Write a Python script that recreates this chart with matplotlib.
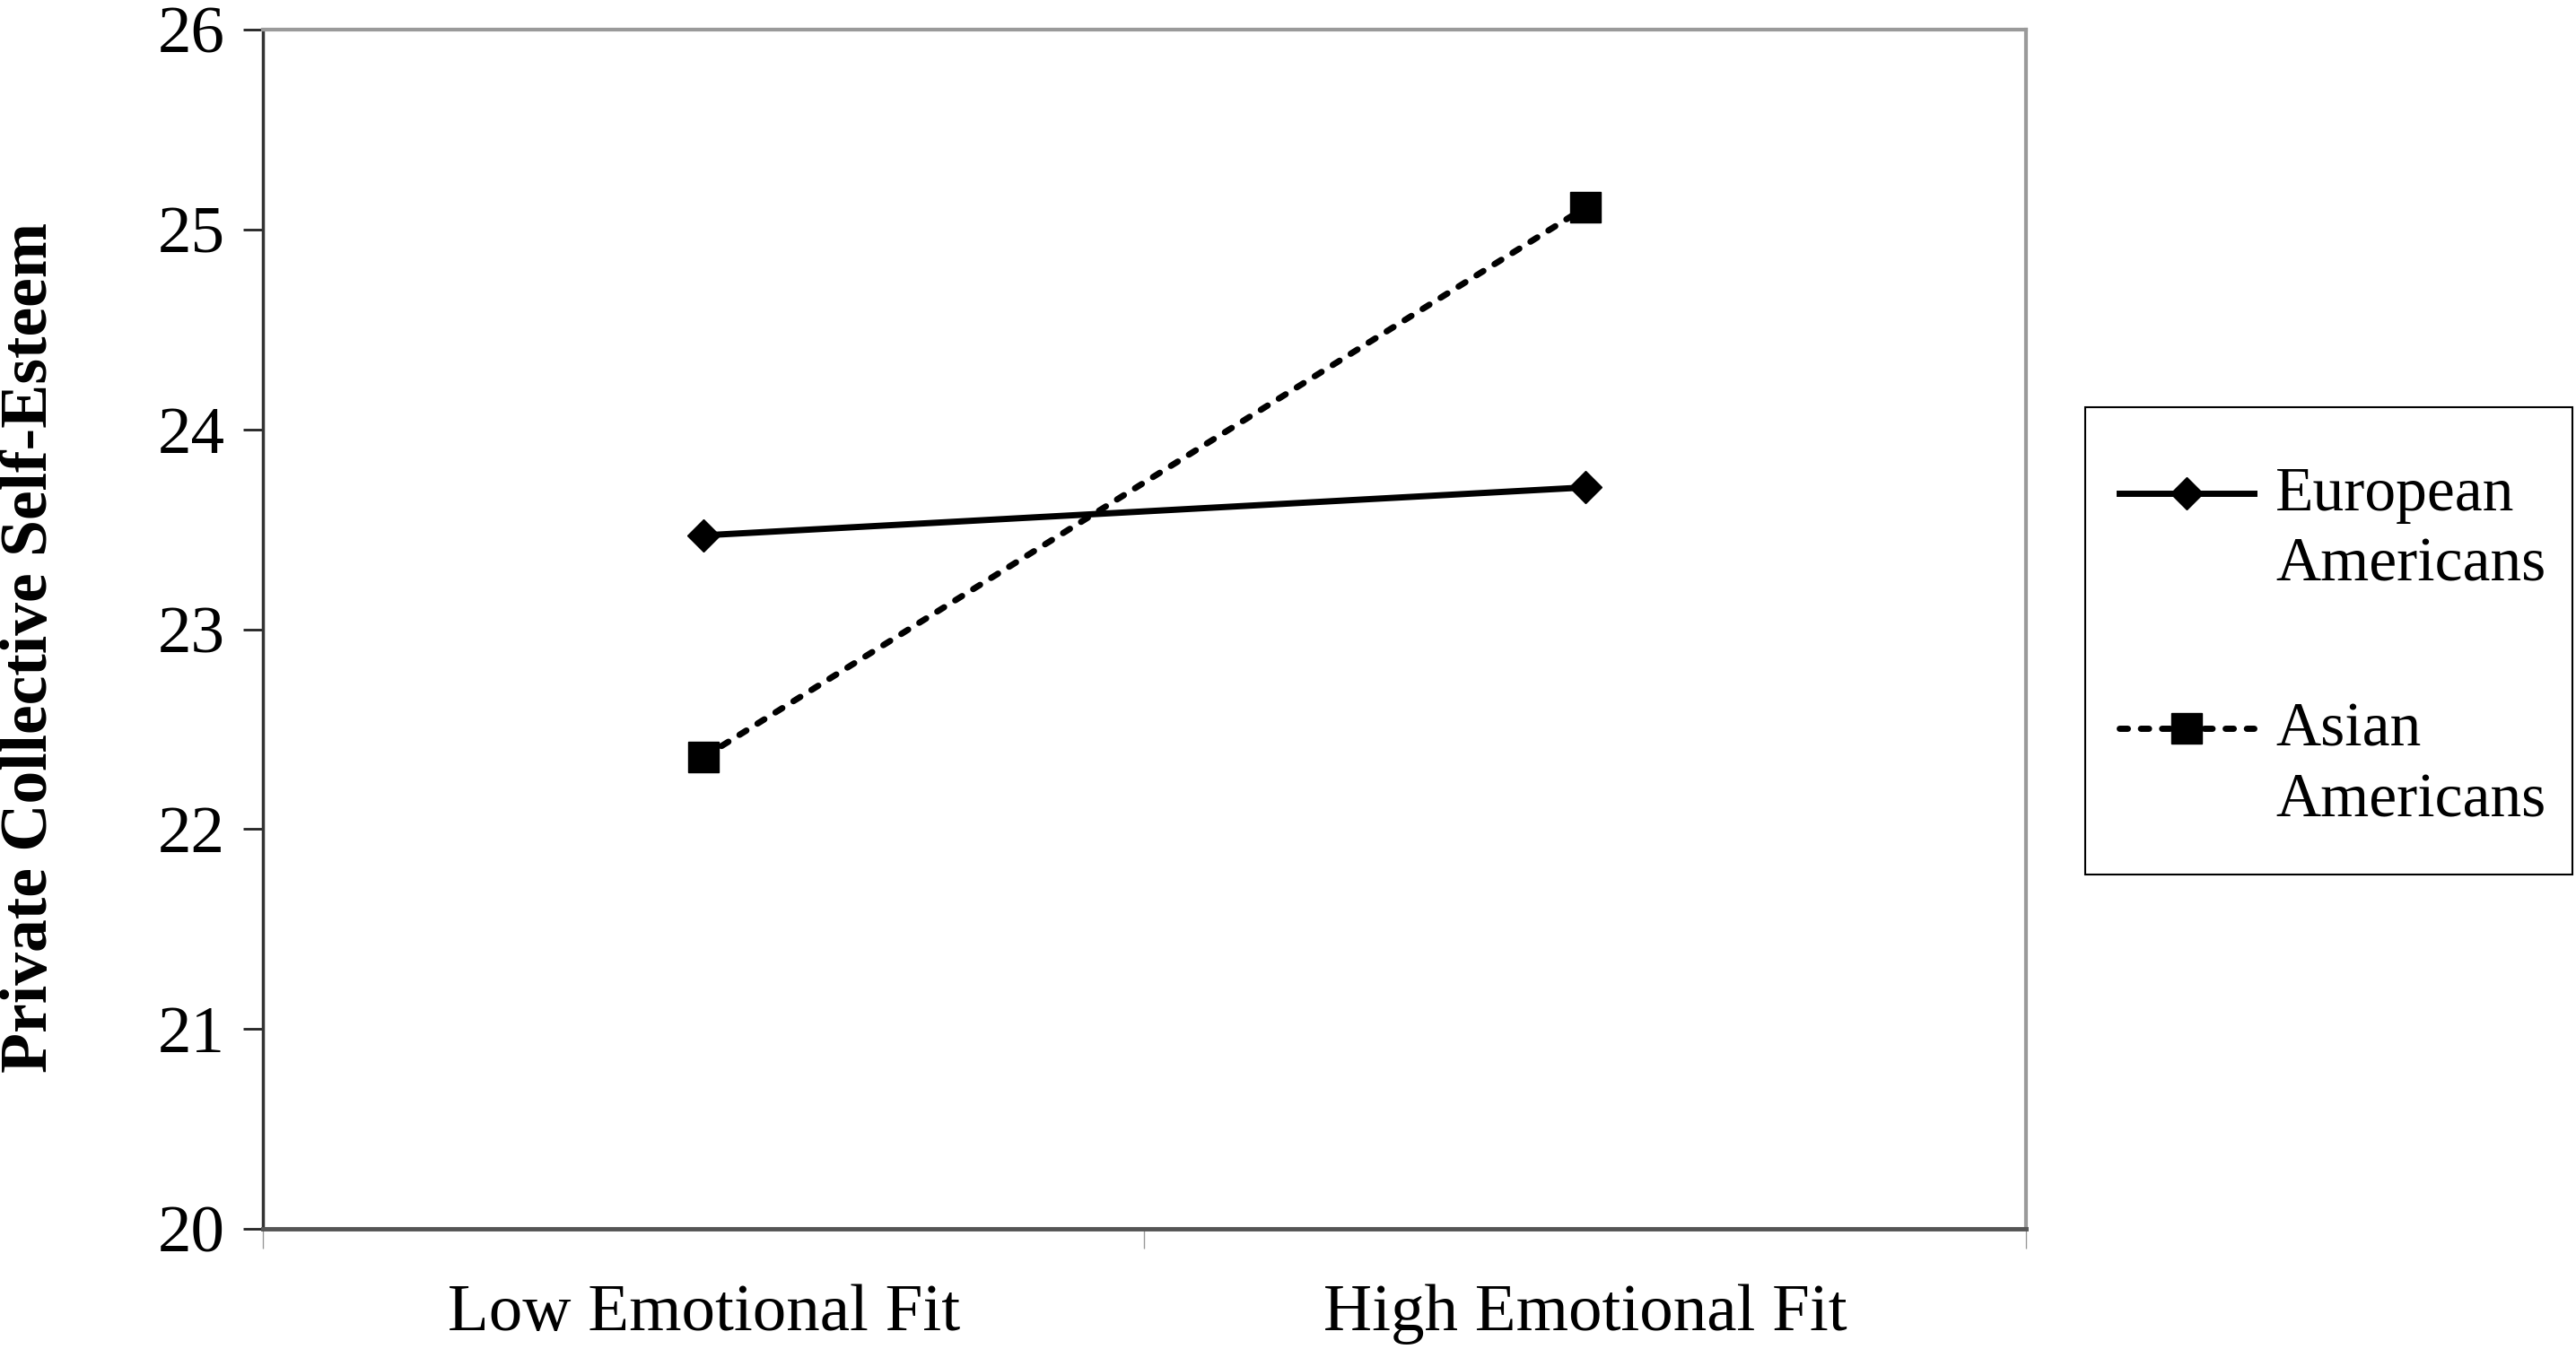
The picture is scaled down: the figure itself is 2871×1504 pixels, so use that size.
"""Interaction plot: emotional fit x cultural group on private collective self-esteem."""

import matplotlib

matplotlib.use("Agg")
import matplotlib.pyplot as plt
from matplotlib.legend_handler import HandlerLine2D
from matplotlib.lines import Line2D
from matplotlib.patches import Rectangle

conditions = ["Low Emotional Fit", "High Emotional Fit"]
european = [23.47, 23.71]
asian = [22.36, 25.11]
series_labels = ["European\nAmericans", "Asian\nAmericans"]
y_ticks = [20, 21, 22, 23, 24, 25, 26]

LW = 5.0
DASH = (0, (1.3, 2.1))
DIAMOND_MS = 18
SQUARE_MS = 25


class RaisedHandler(HandlerLine2D):
    """Line handle lifted to sit beside the first line of a two-line label."""

    def __init__(self, lift, **kwargs):
        super().__init__(**kwargs)
        self.lift = lift

    def create_artists(self, legend, orig_handle, xdescent, ydescent,
                       width, height, fontsize, trans):
        return super().create_artists(legend, orig_handle, xdescent,
                                      ydescent - 2 * self.lift, width, height,
                                      fontsize, trans)


plt.rcParams["font.family"] = ["Liberation Serif", "DejaVu Serif"]

fig = plt.figure(figsize=(28.71, 15.04), dpi=100)
ax = fig.add_axes([0.102, 0.089, 0.6845, 0.889])

xs = [i + 0.5 for i in range(len(conditions))]
ax.plot(xs, european, color="black", linewidth=LW, marker="D",
        markersize=DIAMOND_MS, label=series_labels[0])
ax.plot(xs, asian, color="black", linewidth=LW, linestyle=DASH,
        dash_capstyle="round", marker="s", markersize=SQUARE_MS,
        label=series_labels[1])

ax.set_xlim(0, len(conditions))
ax.set_ylim(y_ticks[0], y_ticks[-1])
ax.set_yticks(y_ticks)
ax.set_xticks(range(len(conditions) + 1))
ax.set_xticklabels([])
ax.set_xticks(xs, minor=True)
ax.set_xticklabels(conditions, minor=True)

ax.tick_params(axis="y", direction="out", length=16, width=2, color="#222222",
               labelsize=54, pad=14)
ax.tick_params(axis="x", which="major", direction="out", length=16, width=1,
               color="#999999")
ax.tick_params(axis="x", which="minor", length=0, labelsize=54, pad=44)

for side in ("top", "right"):
    ax.spines[side].set_color("#9a9a9a")
    ax.spines[side].set_linewidth(3)
ax.spines["left"].set_color("#333333")
ax.spines["left"].set_linewidth(2.5)
ax.spines["bottom"].set_color("#555555")
ax.spines["bottom"].set_linewidth(3.5)

fig.text(0.012, 0.52, "Private Collective Self-Esteem", rotation=90,
         ha="center", va="center", fontsize=53, fontweight="bold")

# legend: frame drawn separately so its padding can be uneven, as in the original
handles = [
    Line2D([], [], color="black", linewidth=LW, marker="D",
           markersize=DIAMOND_MS),
    Line2D([], [], color="black", linewidth=LW, linestyle=DASH,
           dash_capstyle="round", marker="s", markersize=SQUARE_MS),
]
leg = fig.legend(handles, series_labels, loc="upper left",
                 bbox_to_anchor=(0.8227, 0.6542), fontsize=50, frameon=False,
                 borderpad=0, labelspacing=1.73, handlelength=2.16,
                 handletextpad=0.35, borderaxespad=0,
                 handler_map={Line2D: RaisedHandler(lift=30)})
for text in leg.get_texts():
    text.set_linespacing(1.32)

fig.patches.append(Rectangle((0.8095, 0.3517), 0.1891, 0.3464,
                             transform=fig.transFigure, fill=False,
                             edgecolor="black", linewidth=1.5))

fig.savefig("out.png", dpi=100, facecolor="white")
